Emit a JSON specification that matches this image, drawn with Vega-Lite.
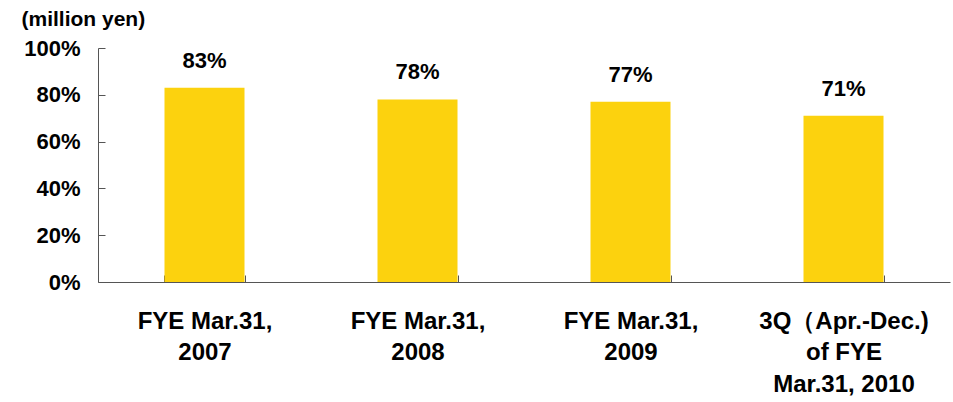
{
  "$schema": "https://vega.github.io/schema/vega-lite/v6.json",
  "width": 852,
  "height": 234,
  "autosize": "none",
  "padding": {"left": 98, "top": 48, "right": 3, "bottom": 120},
  "background": "white",
  "config": {
    "view": {"stroke": null},
    "font": "Liberation Sans"
  },
  "data": {
    "values": [
      {"period": "FYE Mar.31,|2007", "ratio": 0.83, "label": "83%"},
      {"period": "FYE Mar.31,|2008", "ratio": 0.78, "label": "78%"},
      {"period": "FYE Mar.31,|2009", "ratio": 0.77, "label": "77%"},
      {"period": "3Q（Apr.-Dec.)|of FYE|Mar.31, 2010", "ratio": 0.71, "label": "71%"}
    ]
  },
  "encoding": {
    "x": {
      "field": "period",
      "type": "nominal",
      "sort": null,
      "scale": {"paddingInner": 0.6244, "paddingOuter": 0.3122},
      "axis": {
        "title": null,
        "labelAngle": 0,
        "labelExpr": "split(datum.label, '|')",
        "labelFont": "Liberation Sans",
        "labelFontSize": 24,
        "labelFontWeight": "bold",
        "labelColor": "#000",
        "labelLineHeight": 31.5,
        "labelPadding": 34,
        "labelBaseline": "top",
        "tickBand": "extent",
        "tickSize": -7,
        "tickColor": "#555",
        "domainColor": "#555",
        "labelLimit": 300
      }
    },
    "y": {
      "field": "ratio",
      "type": "quantitative",
      "scale": {"domain": [0, 1]},
      "axis": {
        "title": "(million yen)",
        "titleAngle": 0,
        "titleAlign": "left",
        "titleBaseline": "middle",
        "titleX": -77,
        "titleY": -29,
        "titleFont": "Liberation Sans",
        "titleFontSize": 21,
        "titleFontWeight": "bold",
        "titleColor": "#000",
        "values": [0, 0.2, 0.4, 0.6, 0.8, 1],
        "format": ".0%",
        "grid": false,
        "labelFont": "Liberation Sans",
        "labelFontSize": 22,
        "labelFontWeight": "bold",
        "labelColor": "#000",
        "labelPadding": 25,
        "tickSize": -7,
        "tickColor": "#555",
        "domainColor": "#555"
      }
    }
  },
  "layer": [
    {"mark": {"type": "bar", "color": "#FCD20E"}},
    {
      "mark": {
        "type": "text",
        "baseline": "middle",
        "dy": -27,
        "font": "Liberation Sans",
        "fontSize": 22,
        "fontWeight": "bold",
        "color": "#000"
      },
      "encoding": {"text": {"field": "label"}}
    }
  ]
}
